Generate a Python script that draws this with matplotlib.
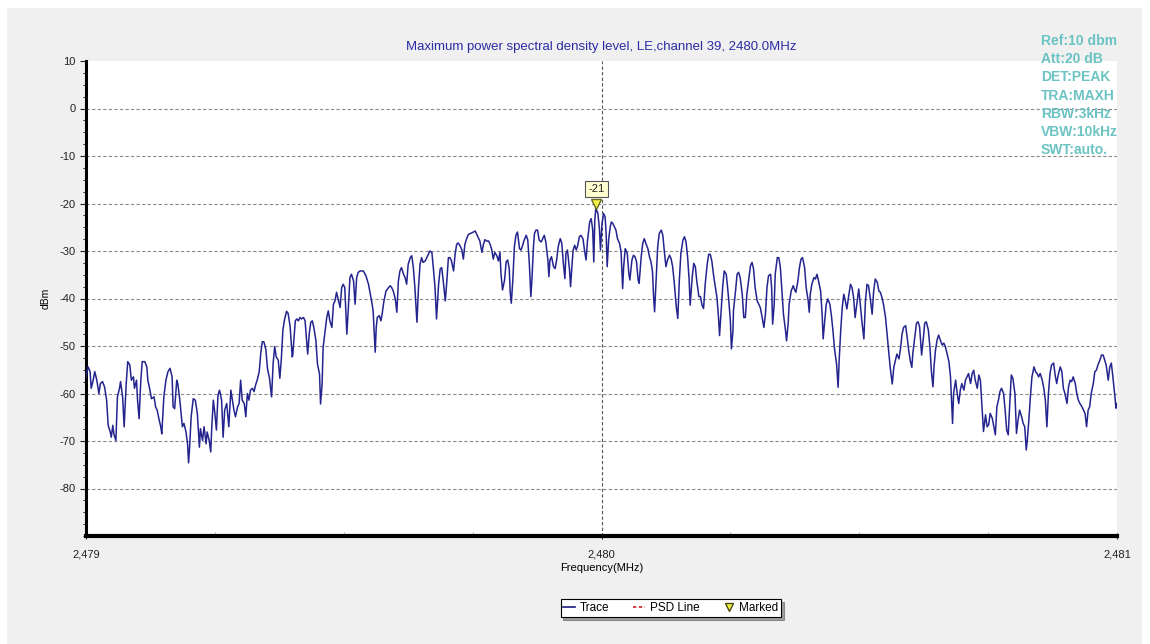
import matplotlib
matplotlib.use("Agg")
import matplotlib.pyplot as plt
import numpy as np
from matplotlib.lines import Line2D
from matplotlib.patches import Rectangle
from matplotlib.ticker import MultipleLocator, FuncFormatter

plt.rcParams["font.family"] = ["Liberation Sans", "DejaVu Sans"]
plt.rcParams["axes.unicode_minus"] = False

# trace: offset from 2479 MHz (kHz) and level (dBm)
offset_khz = [
    0, 4, 8, 10, 14, 17, 21, 25, 28, 32, 36, 40, 43, 47, 49, 52, 54, 58, 61, 65,
    67, 71, 74, 78, 81, 85, 88, 92, 94, 98, 100, 103, 106, 109, 114, 118, 120, 124, 127, 132,
    135, 138, 142, 145, 147, 151, 155, 159, 163, 167, 169, 172, 176, 178, 182, 187, 190, 194, 197, 199,
    201, 204, 208, 212, 216, 220, 222, 226, 229, 233, 235, 239, 242, 244, 247, 250, 253, 256, 259, 263,
    266, 269, 273, 277, 281, 284, 287, 290, 294, 297, 300, 303, 307, 310, 313, 316, 319, 323, 326, 329,
    332, 336, 339, 342, 345, 349, 352, 356, 360, 363, 366, 369, 373, 376, 379, 382, 385, 389, 392, 396,
    400,
    401, 406, 409, 412, 415, 418, 422, 425, 428, 430, 433, 436, 439, 442, 446, 449, 453, 455, 458, 460,
    464, 467, 470, 473, 477, 480, 483, 486, 490, 493, 496, 499, 502, 506, 509, 512, 515, 519, 522, 525,
    528, 532, 538, 543, 548, 551, 554, 557, 561, 563, 565, 569, 572, 574, 578, 582, 587, 590, 593, 596,
    600, 603, 606, 609, 612, 616, 619, 622, 625, 629, 632, 635, 638, 642, 645, 648, 651, 654, 658, 661,
    664, 667, 671, 674, 677, 680, 684, 687, 690, 693, 697, 700, 703, 706, 709, 713, 716, 719, 722, 726,
    729, 732, 735, 739, 742, 748, 755, 758, 761, 764, 768, 771, 774, 777, 781, 784, 787, 790, 793, 797,
    800, 803,
    805, 808, 812, 815, 818, 821, 823, 825, 828, 831, 834, 837, 841, 844, 847, 850, 854, 857, 860, 863,
    865, 868, 870, 873, 876, 879, 883, 886, 889, 892, 896, 898, 900, 903, 907, 910, 913, 916, 920, 923,
    926, 929, 931, 934, 938, 940, 943, 945, 948, 951, 954, 957, 960, 964, 967, 970, 973, 977, 980, 983,
    985, 987, 989, 993, 996, 998, 1001, 1004, 1007, 1009, 1011, 1014, 1017, 1019, 1022, 1025, 1028, 1031, 1035, 1038,
    1041, 1043, 1046, 1050, 1053, 1055, 1059, 1062, 1065, 1068, 1071, 1073, 1077, 1080, 1083, 1086, 1090, 1093, 1096, 1099,
    1101, 1103, 1106, 1109, 1112, 1116, 1119, 1122, 1125, 1128, 1132, 1135, 1138, 1141, 1145, 1148, 1151, 1154, 1158, 1161,
    1164, 1167, 1170, 1172, 1176, 1179, 1182, 1185, 1189, 1192, 1195, 1198, 1201,
    1205, 1208, 1211, 1214, 1218, 1221, 1224, 1227, 1229, 1232, 1235, 1238, 1242, 1244, 1247, 1250, 1252, 1255, 1256, 1260,
    1263, 1266, 1269, 1273, 1276, 1279, 1282, 1286, 1289, 1292, 1295, 1298, 1302, 1305, 1308, 1311, 1315, 1318, 1321, 1324,
    1328, 1330, 1332, 1335, 1337, 1341, 1344, 1347, 1350, 1353, 1357, 1359, 1362, 1364, 1368, 1372, 1374, 1377, 1381, 1384,
    1387, 1390, 1394, 1397, 1401, 1403, 1405, 1408, 1412, 1415, 1418, 1421, 1425, 1428, 1430, 1433, 1436, 1439, 1443, 1446,
    1449, 1452, 1456, 1459, 1461, 1464, 1467, 1470, 1473, 1476, 1480, 1483, 1486, 1489, 1492, 1496, 1499, 1502, 1505, 1509,
    1512, 1515, 1518, 1522, 1525, 1528, 1531, 1535, 1538, 1541, 1544, 1547, 1551, 1554, 1557, 1560, 1564, 1567, 1570, 1573,
    1577, 1580, 1583, 1586, 1590, 1593, 1596, 1599, 1602,
    1604, 1608, 1611, 1614, 1617, 1621, 1624, 1627, 1630, 1634, 1637, 1640, 1643, 1645, 1648, 1651, 1654, 1657, 1661, 1664,
    1667, 1670, 1674, 1677, 1679, 1681, 1683, 1687, 1690, 1693, 1696, 1699, 1703, 1706, 1709, 1712, 1716, 1719, 1722, 1725,
    1729, 1732, 1735, 1738, 1741, 1745, 1748, 1751, 1754, 1758, 1761, 1764, 1767, 1770, 1773, 1776, 1780, 1783, 1786, 1789,
    1792, 1795, 1798, 1802, 1805, 1808, 1811, 1815, 1818, 1821, 1824, 1826, 1829, 1832, 1835, 1839, 1842, 1845, 1848, 1851,
    1855, 1858, 1861, 1864, 1867, 1870, 1873, 1877, 1880, 1883, 1886, 1890, 1893, 1896, 1899, 1903, 1906, 1909, 1912, 1915,
    1919, 1922, 1925, 1928, 1932, 1935, 1938, 1941, 1944, 1947, 1950, 1954, 1957, 1960, 1963, 1967, 1970, 1973, 1976, 1979,
    1983, 1986, 1989, 1992, 1996, 1998, 2000,
]
level_dbm = [
    -56.5, -54.4, -55.4, -58.9, -57.2, -55.4, -57.2, -60.0, -57.9, -57.5, -58.6, -61.4, -66.7, -68.1, -69.2, -66.7, -68.5, -69.9, -60.7, -58.9,
    -57.5, -60.7, -67.0, -57.9, -53.3, -54.0, -57.2, -56.5, -58.9, -57.2, -61.4, -65.3, -57.9, -53.3, -53.3, -54.4, -57.2, -59.3, -61.1, -60.7,
    -62.8, -63.5, -65.6, -67.0, -68.5, -60.7, -57.2, -55.4, -54.7, -56.5, -62.8, -63.2, -57.2, -57.9, -61.4, -67.0, -66.3, -68.1, -70.6, -74.6,
    -71.3, -64.9, -61.1, -61.4, -64.2, -71.3, -67.4, -69.9, -67.0, -70.6, -68.1, -69.9, -72.3, -67.0, -61.4, -64.2, -67.7, -60.4, -59.3, -61.4,
    -69.2, -63.5, -62.1, -67.0, -59.3, -61.4, -63.5, -64.9, -62.8, -62.1, -57.2, -61.4, -62.1, -64.9, -60.0, -61.4, -59.3, -58.9, -59.6, -58.2,
    -57.2, -55.4, -51.5, -49.1, -49.1, -50.8, -54.7, -56.8, -60.7, -53.7, -50.1, -52.3, -53.0, -56.8, -52.6, -46.6, -44.5, -42.7, -43.1, -45.9,
    -52.3,
    -52.0, -44.7, -44.3, -44.7, -44.0, -44.3, -44.0, -44.7, -48.9, -51.7, -47.5, -45.0, -44.7, -46.1, -48.9, -53.8, -55.9, -62.2, -58.0, -50.3,
    -46.8, -44.0, -42.6, -44.7, -46.1, -41.2, -40.5, -38.7, -40.5, -41.9, -37.7, -37.0, -37.7, -47.5, -41.9, -35.6, -34.9, -36.3, -41.2, -35.6,
    -34.5, -34.2, -34.2, -35.2, -37.0, -38.7, -40.5, -42.6, -51.3, -46.1, -44.0, -43.6, -44.7, -43.6, -40.5, -38.4, -37.7, -37.3, -37.7, -38.4,
    -40.1, -42.9, -36.3, -34.2, -33.5, -34.9, -35.6, -37.0, -32.8, -31.4, -31.0, -33.5, -37.7, -45.0, -37.7, -32.8, -31.4, -32.4, -32.1, -31.4,
    -30.7, -30.0, -30.3, -33.8, -37.7, -44.3, -37.0, -33.8, -33.5, -36.3, -40.5, -36.3, -31.4, -31.4, -32.1, -34.2, -30.7, -28.6, -28.3, -29.0,
    -29.7, -31.7, -28.6, -27.2, -26.5, -26.2, -25.8, -26.5, -27.2, -27.9, -30.3, -28.6, -27.6, -27.9, -27.9, -28.6, -29.7, -31.7, -30.3, -31.0,
    -32.1, -30.3,
    -34.7, -38.2, -36.1, -32.3, -31.9, -33.7, -38.9, -41.0, -36.1, -29.1, -26.7, -26.0, -29.5, -29.8, -28.8, -27.7, -26.7, -27.7, -32.6, -39.6,
    -36.1, -29.1, -26.3, -25.6, -25.6, -27.7, -28.1, -27.4, -26.7, -28.1, -31.9, -35.4, -31.9, -31.2, -33.3, -33.7, -31.9, -29.1, -27.4, -28.4,
    -32.6, -35.8, -30.5, -29.8, -34.0, -37.5, -32.6, -29.8, -28.8, -29.8, -28.8, -27.0, -26.7, -27.4, -29.8, -31.9, -27.7, -23.9, -23.2, -25.6,
    -32.3, -23.5, -21.0, -22.1, -25.3, -29.8, -24.2, -22.1, -22.8, -26.3, -33.3, -27.4, -24.9, -23.9, -24.2, -24.9, -25.6, -27.4, -28.4, -30.2,
    -37.9, -33.3, -29.5, -30.5, -34.7, -36.1, -31.9, -30.9, -31.2, -32.3, -36.1, -36.8, -31.2, -28.4, -27.4, -28.4, -29.5, -31.2, -32.3, -34.4,
    -39.6, -42.8, -36.1, -29.1, -26.3, -25.6, -26.7, -30.2, -33.3, -31.9, -30.9, -31.6, -33.3, -36.5, -41.7, -44.2, -36.1, -30.5, -27.7, -27.0,
    -28.1, -31.2, -36.1, -41.4, -35.4, -32.6, -33.3, -36.5, -39.6, -39.6, -41.4, -42.1, -37.2,
    -32.8, -30.7, -30.7, -32.1, -35.6, -37.7, -39.8, -44.0, -47.8, -42.6, -37.7, -34.2, -34.9, -37.0, -40.5, -44.7, -50.6, -46.8, -42.6, -38.4,
    -34.9, -34.5, -35.6, -39.1, -44.0, -44.0, -39.1, -35.6, -33.1, -32.4, -33.8, -37.7, -40.5, -41.2, -41.9, -43.6, -46.1, -43.3, -37.7, -35.2,
    -34.9, -37.7, -45.4, -41.2, -34.9, -31.4, -31.4, -33.5, -38.4, -43.3, -46.8, -48.9, -45.4, -41.2, -38.4, -37.3, -38.0, -38.7, -36.3, -33.5,
    -31.7, -31.4, -33.5, -37.7, -40.5, -42.9, -39.1, -37.0, -35.6, -35.9, -34.9, -36.3, -38.4, -43.3, -48.5, -44.7, -41.2, -40.1, -41.2, -43.6,
    -46.8, -50.6, -53.8, -58.7, -53.1, -46.8, -41.9, -39.1, -40.5, -42.2, -39.1, -37.0, -37.7, -39.8, -44.0, -40.5, -38.0, -41.2, -44.7, -48.5,
    -40.5, -37.0, -37.3, -40.5, -43.3, -38.4, -35.9, -36.6, -38.4, -38.7, -39.8, -41.2, -44.0, -47.5, -51.0, -54.5, -58.0, -54.5, -53.1, -51.7,
    -52.7, -50.6, -47.5, -46.1, -45.7, -48.2, -51.0, -53.1, -54.5,
    -51.5, -48.0, -45.2, -44.9, -45.9, -51.9, -48.7, -45.2, -44.9, -46.6, -50.1, -55.4, -58.6, -54.4, -50.8, -48.7, -47.7, -48.7, -49.8, -49.4,
    -50.1, -51.5, -53.3, -56.5, -61.4, -66.3, -60.0, -57.2, -60.0, -62.1, -59.3, -57.9, -59.3, -57.2, -56.5, -55.8, -57.9, -55.8, -55.1, -57.2,
    -58.9, -56.1, -57.2, -62.8, -68.0, -64.5, -67.0, -66.6, -64.2, -65.2, -67.0, -68.7, -62.8, -61.4, -59.6, -58.9, -60.0, -63.5, -67.7, -68.7,
    -62.1, -56.1, -56.8, -60.0, -68.4, -65.6, -63.5, -64.9, -66.3, -67.0, -71.9, -69.8, -65.6, -60.7, -56.5, -54.4, -55.4, -55.8, -56.5, -55.8,
    -57.2, -58.9, -61.4, -67.0, -60.0, -55.8, -54.0, -53.6, -56.1, -57.9, -56.1, -54.4, -55.4, -58.9, -60.0, -62.1, -58.6, -57.2, -57.5, -56.5,
    -57.9, -60.0, -61.4, -62.1, -62.8, -63.5, -64.2, -67.0, -63.5, -62.8, -60.0, -57.9, -55.4, -55.1, -54.0, -52.9, -51.9, -51.9, -52.9, -54.0,
    -57.2, -54.4, -53.6, -56.5, -60.7, -63.1, -62.1,
]

start_mhz = 2479.0
center_mhz = 2480.0
marker_mhz = 2479.99
marker_dbm = -21
y_ticks = [10, 0, -10, -20, -30, -40, -50, -60, -70, -80]
x_ticks = [2479, 2480, 2481]
settings = ["Ref:10 dbm", "Att:20 dB", "DET:PEAK", "TRA:MAXH",
            "RBW:3kHz", "VBW:10kHz", "SWT:auto."]
title = "Maximum power spectral density level, LE,channel 39, 2480.0MHz"

freq = start_mhz + np.array(offset_khz) / 1000.0
level = np.array(level_dbm)

fig = plt.figure(figsize=(11.5, 6.44), dpi=100)
fig.patch.set_facecolor("white")
fig.patches.append(Rectangle((7 / 1150, 0), 1135 / 1150, 636 / 644,
                             transform=fig.transFigure, facecolor="#f0f0f0",
                             edgecolor="none", zorder=-10))
ax = fig.add_axes([86 / 1150, 1 - 536 / 644, 1031 / 1150, 475 / 644])
ax.set_facecolor("white")

ax.plot(freq, level, color="#24248f", linewidth=1.1, zorder=3)

# horizontal dashed grid and the centre-frequency line
for v in y_ticks[1:]:
    ax.axhline(v, color="#8a8a8a", linestyle=(0, (3, 2)), linewidth=0.8, zorder=1)
ax.axvline(center_mhz, color="#555555", linestyle=(0, (3, 2)), linewidth=0.8, zorder=1)

# peak marker
ax.plot([marker_mhz], [marker_dbm + 0.8], marker="v", markersize=7,
        color="#f2f24a", markeredgecolor="#6b6b20", linestyle="none", zorder=4)
ax.annotate(str(marker_dbm), xy=(marker_mhz, marker_dbm + 1.8),
            xytext=(0, 4), textcoords="offset points", ha="center", va="bottom",
            fontsize=8, color="#222222",
            bbox=dict(boxstyle="square,pad=0.3", fc="#ffffd0", ec="#555555", lw=0.8))

ax.set_xlim(2479, 2481)
ax.set_ylim(-90, 10)
ax.set_xticks(x_ticks)
ax.xaxis.set_minor_locator(MultipleLocator(0.25))
ax.xaxis.set_major_formatter(FuncFormatter(lambda v, p: f"{v:,.0f}"))
ax.set_yticks(y_ticks)
ax.yaxis.set_minor_locator(MultipleLocator(2.5))
ax.tick_params(axis="both", labelsize=8, colors="#222222")
ax.tick_params(axis="y", which="major", length=4, width=0.8)
ax.tick_params(axis="y", which="minor", length=2, width=0.6)
ax.tick_params(axis="x", which="major", length=4, width=0.8, direction="inout", pad=8)
ax.tick_params(axis="x", which="minor", length=3, width=0.6, direction="in", color="#999999")

for side in ("top", "right"):
    ax.spines[side].set_visible(False)
ax.spines["left"].set_linewidth(2.2)
ax.spines["bottom"].set_linewidth(3)

ax.set_xlabel("Frequency(MHz)", fontsize=8, labelpad=2)
ax.set_ylabel("dBm", fontsize=7.5, labelpad=6)
ax.set_title(title, fontsize=9.5, color="#2b2ba5", pad=8)

for i, s in enumerate(settings):
    fig.text(1041 / 1150, 1 - (41 + 18.2 * i) / 644, s, fontsize=10,
             color="#6cc3c3", fontweight="bold", va="center", ha="left")

handles = [
    Line2D([], [], color="#1a1a80", linewidth=1.2),
    Line2D([], [], color="#d02020", linewidth=1.2, linestyle=(0, (2, 1.5))),
    Line2D([], [], color="#f2f24a", marker="v", markeredgecolor="#4a4a10",
           linestyle="none", markersize=6),
]
leg = fig.legend(handles, ["Trace", "PSD Line", "Marked"], loc="center",
                 bbox_to_anchor=(671 / 1150, 1 - 608 / 644), ncol=3, fontsize=8.5,
                 frameon=True, fancybox=False, shadow=True, handlelength=1.0,
                 handletextpad=0.4, columnspacing=2.0, borderpad=0.25)
leg.get_frame().set_edgecolor("black")
leg.get_frame().set_linewidth(0.8)

fig.savefig("out.png", dpi=100, facecolor=fig.get_facecolor())
